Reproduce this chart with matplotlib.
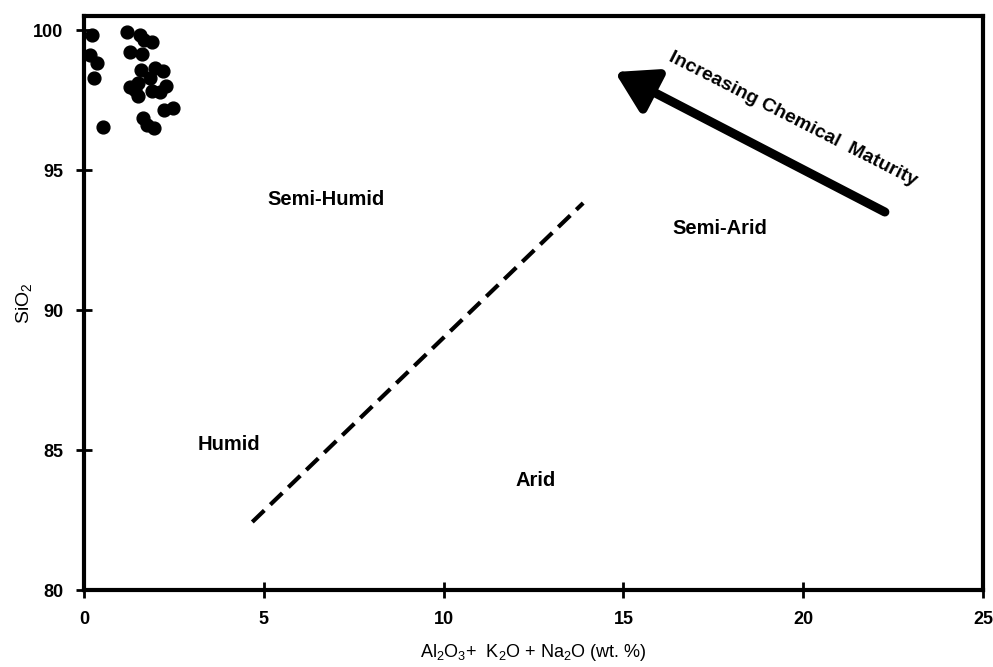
import matplotlib
matplotlib.use("Agg")
import matplotlib.pyplot as plt

matplotlib.rcParams.update({'font.family': 'Liberation Sans', 'mathtext.default': 'regular'})

# Echantillons : somme des oxydes vs SiO2 (wt. %)
oxydes = [0.21, 0.17, 0.35, 0.28, 0.53, 1.20, 1.57, 1.66, 1.88, 1.27, 1.60, 1.58, 1.97,
          2.20, 1.83, 1.50, 1.27, 1.41, 1.50, 1.88, 2.10, 2.27, 2.22, 2.47, 1.63, 1.74, 1.94]
sio2 = [99.82, 99.10, 98.82, 98.29, 96.55, 99.94, 99.82, 99.64, 99.57, 99.23, 99.14, 98.57, 98.64,
        98.54, 98.29, 98.12, 97.95, 97.86, 97.64, 97.83, 97.80, 98.00, 97.14, 97.20, 96.85, 96.61, 96.49]

# limite humide / aride
limite_x = [4.68, 13.88]
limite_y = [82.43, 93.82]

# fleche de maturite chimique
fleche_debut = (22.27, 93.5)
fleche_fin = (14.76, 98.5)

zones = [("Semi-Humid", 6.73, 93.93), ("Semi-Arid", 17.67, 92.9),
         ("Humid", 4.04, 85.2), ("Arid", 12.55, 83.9)]

fig = plt.figure(figsize=(9.93, 6.67), dpi=100)
ax = fig.add_axes([0.0846, 0.1154, 0.9054, 0.8606])

ax.scatter(oxydes, sio2, s=85, color='black', zorder=3, clip_on=False)
ax.plot(limite_x, limite_y, color='black', lw=3, linestyle=(0, (4, 2)))

ax.annotate("", xy=fleche_fin, xytext=fleche_debut,
            arrowprops=dict(arrowstyle="-|>,head_length=1.5,head_width=0.9",
                            mutation_scale=16, color='black', lw=6.5,
                            shrinkA=0, shrinkB=0))
ax.text(19.7, 96.8, "Increasing Chemical  Maturity", rotation=-27, fontsize=14,
        fontweight='bold', ha='center', va='center', rotation_mode='anchor')

for nom, x, y in zones:
    ax.text(x, y, nom, fontsize=14.5, fontweight='bold', ha='center', va='center')

ax.set_xlim(0, 25)
ax.set_ylim(80, 100.5)
ax.set_xticks([0, 5, 10, 15, 20, 25])
ax.set_yticks([80, 85, 90, 95, 100])
for s in ax.spines.values():
    s.set_linewidth(3)
ax.tick_params(direction='inout', length=12, width=2, labelsize=13, pad=9)
for lab in ax.get_xticklabels() + ax.get_yticklabels():
    lab.set_fontweight('bold')

ax.set_xlabel(r"Al$_2$O$_3$+  K$_2$O + Na$_2$O (wt. %)", fontsize=13, labelpad=10)
ax.set_ylabel(r"SiO$_2$", fontsize=14, labelpad=-1)

fig.savefig("out.png", dpi=100)
